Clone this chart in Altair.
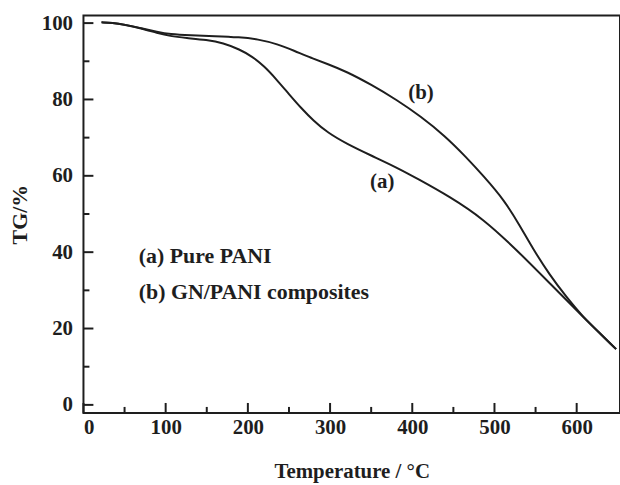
import altair as alt
import pandas as pd

# Curve (a) Pure PANI
temp_a = [22, 35, 50, 70, 90, 105, 125, 150, 170, 190, 205, 220, 235, 250, 265, 280, 297, 320, 350, 380, 406, 446, 486, 527, 567, 607, 648]
tg_a = [100.2, 100.1, 99.6, 98.6, 97.4, 96.6, 96.1, 95.6, 94.8, 93.1, 91.3, 88.7, 85.2, 81.4, 77.7, 74.4, 71.3, 68.4, 65.3, 62.3, 59.3, 54.5, 48.8, 40.6, 31.9, 23.2, 14.6]

# Curve (b) GN/PANI composites
temp_b = [22, 35, 50, 70, 90, 105, 130, 160, 190, 212, 236, 257, 277, 297, 320, 350, 381, 410, 440, 465, 486, 512, 531, 547, 567, 587, 607, 628, 648]
tg_b = [100.2, 100.1, 99.6, 98.7, 97.7, 97.1, 96.8, 96.6, 96.3, 95.8, 94.5, 92.7, 90.9, 89.3, 87.3, 83.9, 79.9, 75.6, 70.4, 65.0, 60.1, 53.6, 46.9, 40.8, 34.1, 28.4, 23.2, 18.8, 14.6]

x_major = [0, 100, 200, 300, 400, 500, 600]
x_minor = [50, 150, 250, 350, 450, 550]
y_major = [0, 20, 40, 60, 80, 100]
y_minor = [10, 30, 50, 70, 90]

curve_labels = ["(a)", "(b)"]
curve_label_x = [363.5, 410.6]
curve_label_y = [58.3, 81.7]

legend_texts = ["(a) Pure PANI", "(b) GN/PANI composites"]
legend_x = [67.3, 67.3]
legend_y = [37.2, 27.8]

FONT = "Liberation Serif"
INK = "#1e1e1e"

df = pd.concat([
    pd.DataFrame({"T": temp_a, "TG": tg_a, "series": "a"}),
    pd.DataFrame({"T": temp_b, "TG": tg_b, "series": "b"}),
])

x_scale = alt.Scale(domain=[0, 652.7], nice=False, zero=False)
y_scale = alt.Scale(domain=[-2.1, 102], nice=False, zero=False)

x_axis = alt.Axis(
    values=x_major, format="d", title="Temperature / °C", ticks=False,
    grid=False, domain=False, labelPadding=4, titlePadding=23,
    labelFont=FONT, labelFontSize=21, labelFontWeight="bold", labelColor=INK,
    titleFont=FONT, titleFontSize=21, titleFontWeight="bold", titleColor=INK)
y_axis = alt.Axis(
    values=y_major, format="d", title="TG/%", ticks=False,
    grid=False, domain=False, labelPadding=11, titlePadding=10,
    labelFont=FONT, labelFontSize=21, labelFontWeight="bold", labelColor=INK,
    titleFont=FONT, titleFontSize=22, titleFontWeight="bold", titleColor=INK)

lines = alt.Chart(df).mark_line(
    interpolate="basis", color=INK, strokeWidth=2, clip=True
).encode(
    x=alt.X("T:Q", scale=x_scale, axis=x_axis),
    y=alt.Y("TG:Q", scale=y_scale, axis=y_axis),
    detail="series:N",
)

def yticks(vals, length):
    return alt.Chart(pd.DataFrame({"TG": vals})).mark_rule(color=INK, strokeWidth=2).encode(
        y=alt.Y("TG:Q", scale=y_scale, axis=y_axis),
        x=alt.value(0), x2=alt.value(length),
    )

def xticks(vals, length):
    return alt.Chart(pd.DataFrame({"T": vals})).mark_rule(color=INK, strokeWidth=2).encode(
        x=alt.X("T:Q", scale=x_scale, axis=x_axis),
        y=alt.value(400), y2=alt.value(400 - length),
    )

clabels = alt.Chart(pd.DataFrame({"T": curve_label_x, "TG": curve_label_y, "t": curve_labels})).mark_text(
    font=FONT, fontSize=21, fontWeight="bold", color=INK, align="center", baseline="middle"
).encode(
    x=alt.X("T:Q", scale=x_scale, axis=x_axis),
    y=alt.Y("TG:Q", scale=y_scale, axis=y_axis),
    text="t:N",
)

legend = alt.Chart(pd.DataFrame({"T": legend_x, "TG": legend_y, "t": legend_texts})).mark_text(
    font=FONT, fontSize=22, fontWeight="bold", color=INK, align="left", baseline="alphabetic"
).encode(
    x=alt.X("T:Q", scale=x_scale, axis=x_axis),
    y=alt.Y("TG:Q", scale=y_scale, axis=y_axis),
    text="t:N",
)

chart = alt.layer(
    lines,
    yticks(y_major, 10), yticks(y_minor, 6),
    xticks(x_major, 10), xticks(x_minor, 6),
    clabels, legend,
).properties(
    width=540, height=400,
    autosize=alt.AutoSizeParams(type="none"),
    padding={"left": 84, "top": 14, "right": 0, "bottom": 71},
    background="white",
).configure_view(
    stroke=INK, strokeWidth=2,
)

chart.save("out.html", embed_options={"renderer": "svg", "actions": False})
